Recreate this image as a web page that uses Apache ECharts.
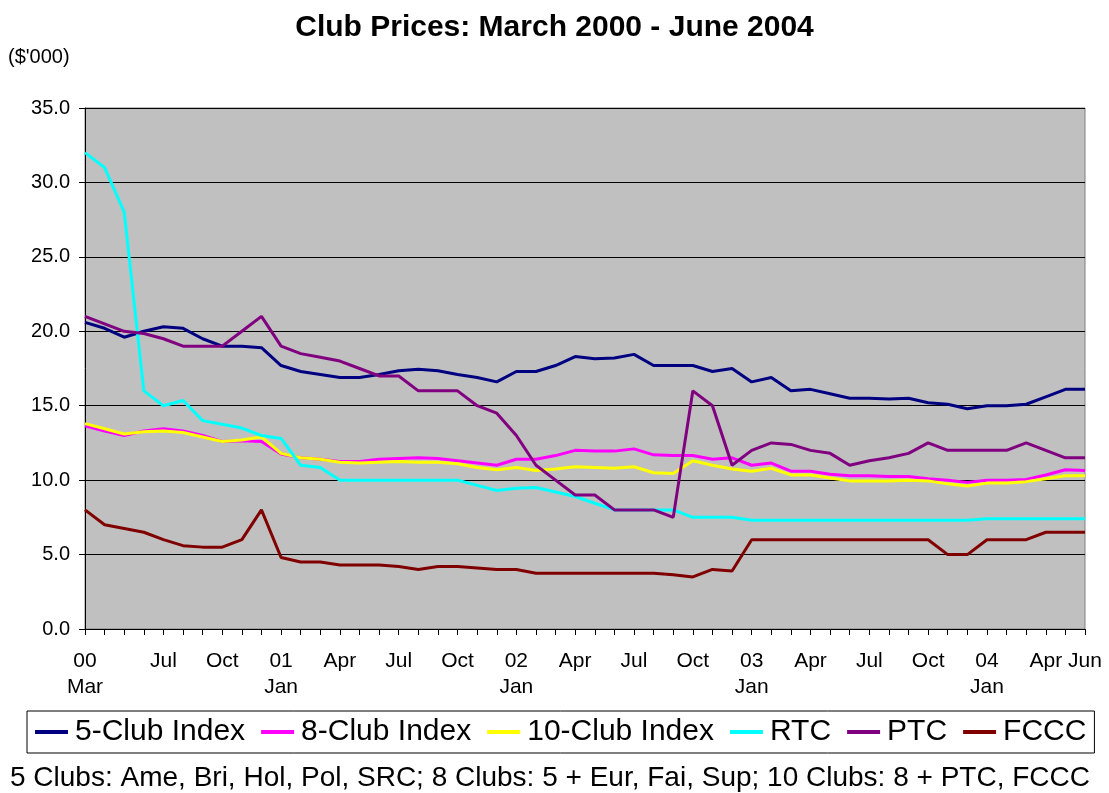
<!DOCTYPE html>
<html>
<head>
<meta charset="utf-8">
<script src="https://cdn.jsdelivr.net/npm/echarts@6/dist/echarts.min.js"></script>
<style>
html,body{margin:0;padding:0;background:#fff;}
#chart{width:1109px;height:793px;}
</style>
</head>
<body>
<div id="chart"></div>
<script>
const categories = [
  '00\nMar','Apr','May','Jun','Jul','Aug','Sep','Oct','Nov','Dec',
  '01\nJan','Feb','Mar','Apr','May','Jun','Jul','Aug','Sep','Oct','Nov','Dec',
  '02\nJan','Feb','Mar','Apr','May','Jun','Jul','Aug','Sep','Oct','Nov','Dec',
  '03\nJan','Feb','Mar','Apr','May','Jun','Jul','Aug','Sep','Oct','Nov','Dec',
  '04\nJan','Feb','Mar','Apr','May','Jun'
];
const shownLabelIdx = [0,4,7,10,13,16,19,22,25,28,31,34,37,40,43,46,49,51];

const fiveClub = [20.6,20.2,19.6,20.0,20.3,20.2,19.5,19.0,19.0,18.9,
  17.7,17.3,17.1,16.9,16.9,17.1,17.35,17.45,17.35,17.1,
  16.9,16.6,17.3,17.3,17.7,18.3,18.15,18.2,18.45,17.7,
  17.7,17.7,17.3,17.5,16.6,16.9,16.0,16.1,15.8,15.5,
  15.5,15.45,15.5,15.2,15.1,14.8,15.0,15.0,15.1,15.6,
  16.1,16.1];
const eightClub = [13.65,13.3,13.0,13.3,13.45,13.3,13.0,12.6,12.65,12.6,
  11.75,11.5,11.4,11.25,11.25,11.4,11.45,11.5,11.45,11.3,
  11.15,11.0,11.4,11.4,11.65,12.0,11.95,11.95,12.1,11.7,
  11.65,11.65,11.4,11.5,11.0,11.15,10.6,10.6,10.4,10.3,
  10.3,10.25,10.25,10.1,10.0,9.85,10.0,10.0,10.05,10.35,
  10.7,10.65];
const tenClub = [13.8,13.45,13.1,13.25,13.3,13.2,12.9,12.6,12.7,12.9,
  11.8,11.5,11.4,11.2,11.15,11.2,11.25,11.2,11.2,11.1,
  10.85,10.7,10.85,10.65,10.75,10.9,10.85,10.8,10.9,10.5,
  10.45,11.3,11.0,10.75,10.6,10.8,10.35,10.35,10.15,9.95,
  9.95,9.95,10.0,9.95,9.75,9.6,9.8,9.8,9.9,10.1,
  10.3,10.3];
const rtc = [32.0,31.0,28.0,16.0,15.0,15.35,14.0,13.75,13.5,13.0,
  12.8,11.0,10.85,10.0,10.0,10.0,10.0,10.0,10.0,10.0,
  9.65,9.3,9.45,9.5,9.2,8.9,8.45,8.0,8.0,8.0,
  8.0,7.5,7.5,7.5,7.3,7.3,7.3,7.3,7.3,7.3,
  7.3,7.3,7.3,7.3,7.3,7.3,7.4,7.4,7.4,7.4,
  7.4,7.4];
const ptc = [21.0,20.5,20.0,19.85,19.5,19.0,19.0,19.0,20.0,21.0,
  19.0,18.5,18.25,18.0,17.5,17.0,17.0,16.0,16.0,16.0,
  15.0,14.5,13.0,11.0,10.0,9.0,9.0,8.0,8.0,8.0,
  7.5,16.0,15.0,11.0,12.0,12.5,12.4,12.0,11.8,11.0,
  11.3,11.5,11.8,12.5,12.0,12.0,12.0,12.0,12.5,12.0,
  11.5,11.5];
const fccc = [8.0,7.0,6.75,6.5,6.0,5.6,5.5,5.5,6.0,8.0,
  4.8,4.5,4.5,4.3,4.3,4.3,4.2,4.0,4.2,4.2,
  4.1,4.0,4.0,3.75,3.75,3.75,3.75,3.75,3.75,3.75,
  3.65,3.5,4.0,3.9,6.0,6.0,6.0,6.0,6.0,6.0,
  6.0,6.0,6.0,6.0,5.0,5.0,6.0,6.0,6.0,6.5,
  6.5,6.5];

const seriesNames = ['5-Club Index','8-Club Index','10-Club Index','RTC','PTC','FCCC'];
const seriesData = [fiveClub, eightClub, tenClub, rtc, ptc, fccc];
const seriesColors = ['#000080','#FF00FF','#FFFF00','#00FFFF','#800080','#800000'];

const FONT = '"Liberation Sans", Arial, sans-serif';

const chart = echarts.init(document.getElementById('chart'), null, {renderer:'canvas'});
chart.setOption({
  animation: false,
  backgroundColor: '#ffffff',
  color: seriesColors,
  title: {
    text: 'Club Prices: March 2000 - June 2004',
    left: 'center',
    top: 8,
    textStyle: {fontFamily: FONT, fontSize: 30, fontWeight: 'bold', color: '#000'}
  },
  graphic: [
    {type:'text', left: 8, top: 47, style:{text:"($'000)", fontFamily: FONT, fontSize: 20, fill:'#000'}},
    {type:'text', left: 10, top: 764, style:{text:'5 Clubs: Ame, Bri, Hol, Pol, SRC; 8 Clubs: 5 + Eur, Fai, Sup; 10 Clubs: 8 + PTC, FCCC', fontFamily: FONT, fontSize: 28, fill:'#000'}}
  ],
  legend: {
    data: seriesNames,
    left: 27,
    top: 711,
    padding: [6, 8, 6, 8],
    itemGap: 16,
    itemWidth: 33,
    itemHeight: 4,
    icon: 'rect',
    borderColor: '#000',
    borderWidth: 1,
    textStyle: {fontFamily: FONT, fontSize: 30, color: '#000', padding:[0,0,0,2]}
  },
  grid: {
    left: 85, right: 24, top: 108, bottom: 164,
    show: true,
    backgroundColor: '#C0C0C0',
    borderColor: '#808080',
    borderWidth: 1
  },
  xAxis: {
    type: 'category',
    data: categories,
    boundaryGap: false,
    axisLine: {lineStyle: {color: '#000', width: 1}},
    axisTick: {show: true, interval: 0, length: 6, lineStyle: {color: '#000'}},
    axisLabel: {
      interval: function (i) { return shownLabelIdx.indexOf(i) >= 0; },
      fontFamily: FONT, fontSize: 21, color: '#000', lineHeight: 26, margin: 19
    },
    splitLine: {show: false}
  },
  yAxis: {
    type: 'value',
    min: 0, max: 35, interval: 5,
    axisLine: {show: true, lineStyle: {color: '#000', width: 1}},
    axisTick: {show: true, length: 6, lineStyle: {color: '#000'}},
    axisLabel: {
      formatter: function (v) { return v.toFixed(1); },
      fontFamily: FONT, fontSize: 20, color: '#000', margin: 15
    },
    splitLine: {show: true, lineStyle: {color: '#000', width: 1}}
  },
  series: seriesNames.map(function (n, i) {
    return {
      name: n, type: 'line', data: seriesData[i],
      symbol: 'none', showSymbol: false,
      lineStyle: {width: 3, color: seriesColors[i]},
      itemStyle: {color: seriesColors[i]}
    };
  })
});
</script>
</body>
</html>
